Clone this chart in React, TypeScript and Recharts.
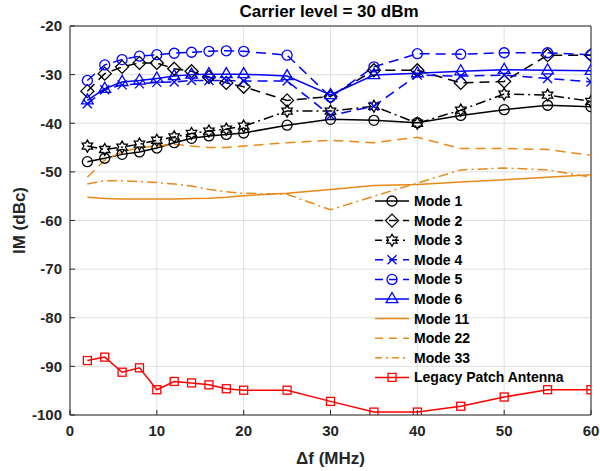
import React from "react";
import {
  LineChart,
  Line,
  XAxis,
  YAxis,
  CartesianGrid,
  Legend,
  ReferenceLine,
} from "recharts";

const FREQS = [2, 4, 6, 8, 10, 12, 14, 16, 18, 20, 25, 30, 35, 40, 45, 50, 55, 60];

const mode1 = [-47.9, -47.2, -46.4, -45.9, -45.1, -44.0, -43.1, -42.6, -42.3, -42.0, -40.4, -39.2, -39.4, -39.9, -38.4, -37.2, -36.3, -36.6];
const mode2 = [-33.4, -29.8, -28.4, -27.6, -27.6, -28.8, -29.3, -30.5, -31.7, -32.5, -35.3, -34.5, -29.1, -29.1, -31.7, -31.4, -26.0, -26.0];
const mode3 = [-44.7, -45.4, -44.9, -44.3, -43.5, -42.8, -42.1, -41.6, -41.2, -40.6, -37.5, -37.5, -36.5, -40.0, -37.3, -34.0, -34.2, -35.5];
const mode4 = [-36.0, -33.1, -32.1, -31.9, -31.6, -31.5, -31.2, -31.2, -31.2, -31.3, -31.3, -38.4, -36.5, -30.1, -30.3, -30.1, -30.8, -31.5];
const mode5 = [-31.2, -28.0, -26.9, -26.2, -25.9, -25.6, -25.4, -25.2, -25.1, -25.2, -26.0, -34.6, -28.4, -25.7, -25.8, -25.5, -25.5, -25.9];
const mode6 = [-35.3, -32.9, -31.5, -31.2, -30.8, -30.3, -30.0, -29.9, -29.9, -29.9, -30.3, -34.2, -30.1, -29.7, -29.3, -29.0, -29.1, -29.2];
const mode11 = [-55.2, -55.5, -55.6, -55.6, -55.6, -55.6, -55.5, -55.4, -55.2, -54.9, -54.4, -53.6, -52.8, -52.6, -52.1, -51.6, -51.1, -50.6];
const mode22 = [-51.1, -47.6, -45.9, -45.0, -44.7, -44.3, -44.7, -45.0, -45.0, -44.7, -44.0, -43.5, -44.0, -42.9, -45.2, -45.2, -45.4, -46.6];
const mode33 = [-52.5, -51.8, -51.8, -52.0, -52.2, -52.5, -52.9, -53.6, -54.1, -54.4, -54.6, -57.8, -55.0, -52.3, -49.6, -49.2, -49.6, -51.1];
const legacy = [-88.8, -88.1, -91.2, -90.3, -94.8, -93.1, -93.4, -93.8, -94.6, -94.9, -94.9, -97.2, -99.4, -99.4, -98.2, -96.3, -94.8, -94.8];

const X_TICKS = [0, 10, 20, 30, 40, 50, 60];
const Y_TICKS = [-100, -90, -80, -70, -60, -50, -40, -30, -20];

const data = FREQS.map((f, i) => ({
  f,
  m1: mode1[i],
  m2: mode2[i],
  m3: mode3[i],
  m4: mode4[i],
  m5: mode5[i],
  m6: mode6[i],
  m11: mode11[i],
  m22: mode22[i],
  m33: mode33[i],
  legacy: legacy[i],
}));

const BLACK = "#000000";
const BLUE = "#0000ff";
const ORANGE = "#e8891a";
const RED = "#ff0000";
const AXIS = "#262626";
const FONT = "'Liberation Sans', Arial, Helvetica, sans-serif";

const DASH = "10 6";
const DASHDOT = "10 4 2 4";

type Shape = "circle" | "diamond" | "hexagram" | "x" | "triangle" | "square" | "none";

function markerPath(shape: Shape, cx: number, cy: number, color: string, key?: any) {
  const common = { stroke: color, strokeWidth: 1.3, fill: "none" };
  switch (shape) {
    case "circle":
      return <circle key={key} cx={cx} cy={cy} r={5} {...common} />;
    case "diamond": {
      const r = 6.5;
      return (
        <polygon
          key={key}
          points={`${cx},${cy - r} ${cx + r},${cy} ${cx},${cy + r} ${cx - r},${cy}`}
          {...common}
        />
      );
    }
    case "hexagram": {
      const R = 6;
      const r = R / Math.sqrt(3);
      const pts: string[] = [];
      for (let k = 0; k < 12; k++) {
        const a = ((-90 + k * 30) * Math.PI) / 180;
        const rad = k % 2 === 0 ? R : r;
        pts.push(`${cx + rad * Math.cos(a)},${cy + rad * Math.sin(a)}`);
      }
      return <polygon key={key} points={pts.join(" ")} {...common} />;
    }
    case "x": {
      const s = 4.5;
      return (
        <path
          key={key}
          d={`M${cx - s},${cy - s}L${cx + s},${cy + s}M${cx - s},${cy + s}L${cx + s},${cy - s}`}
          {...common}
        />
      );
    }
    case "triangle": {
      const r = 6.5;
      return (
        <polygon
          key={key}
          points={`${cx},${cy - r} ${cx + r * 0.9},${cy + r * 0.55} ${cx - r * 0.9},${cy + r * 0.55}`}
          {...common}
        />
      );
    }
    case "square": {
      const s = 4;
      return <rect key={key} x={cx - s} y={cy - s} width={2 * s} height={2 * s} {...common} />;
    }
    default:
      return <g key={key} />;
  }
}

interface SeriesDef {
  key: string;
  name: string;
  color: string;
  dash?: string;
  shape: Shape;
}

const SERIES: SeriesDef[] = [
  { key: "m1", name: "Mode 1", color: BLACK, shape: "circle" },
  { key: "m2", name: "Mode 2", color: BLACK, dash: DASH, shape: "diamond" },
  { key: "m3", name: "Mode 3", color: BLACK, dash: DASHDOT, shape: "hexagram" },
  { key: "m4", name: "Mode 4", color: BLUE, dash: DASH, shape: "x" },
  { key: "m5", name: "Mode 5", color: BLUE, dash: DASH, shape: "circle" },
  { key: "m6", name: "Mode 6", color: BLUE, shape: "triangle" },
  { key: "m11", name: "Mode 11", color: ORANGE, shape: "none" },
  { key: "m22", name: "Mode 22", color: ORANGE, dash: DASH, shape: "none" },
  { key: "m33", name: "Mode 33", color: ORANGE, dash: DASHDOT, shape: "none" },
  { key: "legacy", name: "Legacy Patch Antenna", color: RED, shape: "square" },
];

const LegendBox = () => (
  <svg width={215} height={200} style={{ display: "block" }}>
    {SERIES.map((s, i) => {
      const y = 10 + i * 19.6;
      return (
        <g key={s.key}>
          <line
            x1={2}
            x2={36}
            y1={y}
            y2={y}
            stroke={s.color}
            strokeWidth={1.5}
            strokeDasharray={s.dash ? (s.dash === DASH ? "8 6" : "7 4 2 4") : undefined}
          />
          {markerPath(s.shape, 19, y, s.color)}
          <text
            x={41}
            y={y}
            dy="0.36em"
            fontFamily={FONT}
            fontWeight="bold"
            fontSize={14}
            fill="#000"
          >
            {s.name}
          </text>
        </g>
      );
    })}
  </svg>
);

const YLabel = (props: any) => {
  const vb = props.viewBox || { x: 20, y: 26, width: 50, height: 390 };
  const x = 19;
  const y = vb.y + vb.height / 2;
  return (
    <text
      x={x}
      y={y}
      transform={`rotate(-90 ${x} ${y})`}
      textAnchor="middle"
      dominantBaseline="central"
      fontFamily={FONT}
      fontWeight="bold"
      fontSize={17}
      fill={AXIS}
    >
      IM (dBc)
    </text>
  );
};

const XLabel = (props: any) => {
  const vb = props.viewBox || { x: 70, y: 415, width: 521, height: 30 };
  return (
    <text
      x={vb.x + vb.width / 2}
      y={458}
      textAnchor="middle"
      dominantBaseline="central"
      fontFamily={FONT}
      fontWeight="bold"
      fontSize={17}
      fill={AXIS}
    >
      Δf (MHz)
    </text>
  );
};

export default function App() {
  const tickStyle = { fontSize: 15, fontWeight: "bold", fill: AXIS, fontFamily: FONT };
  return (
    <div style={{ position: "absolute", left: 0, top: 0, width: 600, height: 471, background: "#fff" }}>
      <div
        style={{
          position: "absolute",
          left: 0,
          top: 2,
          width: 658,
          textAlign: "center",
          fontFamily: FONT,
          fontWeight: "bold",
          fontSize: 17,
          color: "#000",
        }}
      >
        Carrier level = 30 dBm
      </div>
      <div style={{ position: "absolute", left: 0, top: 0 }}>
        <LineChart
          width={600}
          height={471}
          data={data}
          margin={{ top: 26, right: 9, bottom: 26, left: 20 }}
        >
          <CartesianGrid stroke="#dfdfdf" strokeWidth={1} />
          <XAxis
            dataKey="f"
            type="number"
            domain={[0, 60]}
            ticks={X_TICKS}
            height={30}
            tick={tickStyle}
            tickSize={-5}
            tickMargin={15}
            tickLine={{ stroke: AXIS }}
            axisLine={{ stroke: AXIS, strokeWidth: 1 }}
            label={<XLabel />}
            allowDataOverflow
          />
          <YAxis
            type="number"
            domain={[-100, -20]}
            ticks={Y_TICKS}
            width={50}
            tick={tickStyle}
            tickSize={-5}
            tickMargin={13}
            tickLine={{ stroke: AXIS }}
            axisLine={{ stroke: AXIS, strokeWidth: 1 }}
            label={<YLabel />}
            allowDataOverflow
          />
          <ReferenceLine y={-20} stroke={AXIS} strokeWidth={1} />
          <ReferenceLine x={60} stroke={AXIS} strokeWidth={1} />
          {SERIES.map((s) => (
            <Line
              key={s.key}
              dataKey={s.key}
              name={s.name}
              type="linear"
              stroke={s.color}
              strokeWidth={1.5}
              strokeDasharray={s.dash}
              isAnimationActive={false}
              dot={
                s.shape === "none"
                  ? false
                  : (p: any) => markerPath(s.shape, p.cx, p.cy, s.color, `${s.key}-${p.index}`)
              }
              activeDot={false}
            />
          ))}
          <Legend
            layout="vertical"
            align="center"
            verticalAlign="middle"
            content={<LegendBox />}
            wrapperStyle={{ position: "absolute", left: 373, top: 191, width: 215, height: 200 }}
          />
        </LineChart>
      </div>
    </div>
  );
}
